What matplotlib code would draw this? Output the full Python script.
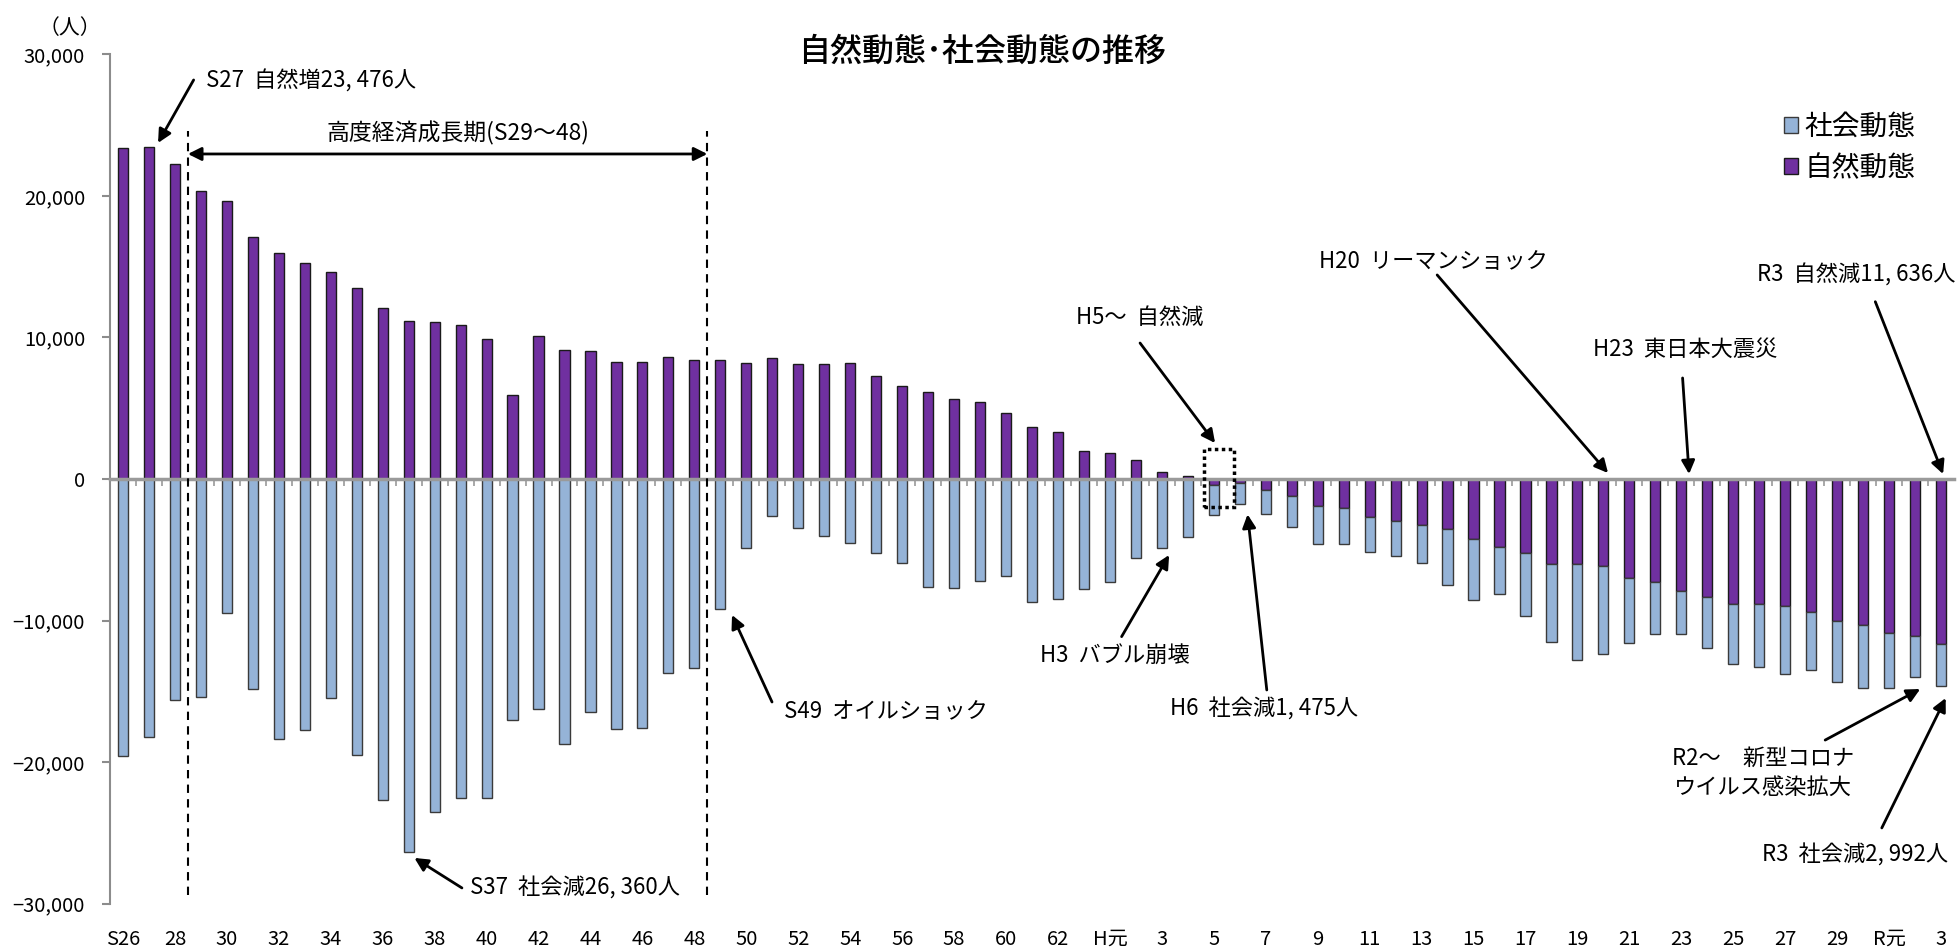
import numpy as np
import matplotlib.pyplot as plt
from matplotlib.patches import Rectangle

plt.rcParams['font.family'] = ['Noto Sans CJK JP', 'DejaVu Sans']

# 自然動態（S26〜R3）
natural = [23370, 23476, 22240, 20330, 19650, 17080, 15990, 15240, 14650, 13520,
           12060, 11170, 11120, 10880, 9920, 5940, 10080, 9150, 9060, 8250,
           8250, 8650, 8440, 8390, 8220, 8580, 8130, 8100, 8170, 7260,
           6600, 6170, 5650, 5460, 4690, 3650, 3340, 2000, 1860, 1370,
           520, 240, -450, -300, -780, -1220, -1880, -2030, -2710, -2950,
           -3230, -3530, -4220, -4780, -5230, -5980, -5980, -6120, -6990, -7300,
           -7910, -8330, -8810, -8810, -8950, -9390, -10070, -10320, -10860, -11070, -11636]

# 社会動態（S26〜R3）
social = [-19580, -18260, -15590, -15430, -9490, -14860, -18400, -17760, -15480, -19510,
          -22710, -26360, -23530, -22520, -22540, -17030, -16230, -18750, -16490, -17670,
          -17600, -13730, -13380, -9190, -4900, -2590, -3440, -4000, -4500, -5230,
          -5960, -7660, -7700, -7180, -6880, -8720, -8460, -7800, -7280, -5610,
          -4900, -4100, -2090, -1475, -1690, -2150, -2740, -2590, -2450, -2520,
          -2710, -3960, -4350, -3380, -4420, -5520, -6810, -6230, -4580, -3650,
          -3050, -3640, -4240, -4500, -4810, -4130, -4250, -4430, -3930, -2900, -2992]

# 2年おきの目盛ラベル
tick_labels = ['S26', '28', '30', '32', '34', '36', '38', '40', '42', '44', '46', '48',
               '50', '52', '54', '56', '58', '60', '62', 'H元', '3', '5', '7', '9', '11',
               '13', '15', '17', '19', '21', '23', '25', '27', '29', 'R元', '3']

fig = plt.figure(figsize=(19.59, 9.47), dpi=100)
ax = fig.add_axes([110 / 1959, 43.5 / 947, 1844 / 1959, 849 / 947])

x = np.arange(len(natural))
nat = np.array(natural)
ax.bar(x, natural, width=0.39, color='#7030A0', edgecolor='#1a1a1a', lw=1,
       label='自然動態', zorder=3)
ax.bar(x, social, width=0.39, bottom=np.minimum(nat, 0), color='#95B3D7',
       edgecolor='#3a3a3a', lw=1, label='社会動態', zorder=3)

ax.set_xlim(-0.5, len(natural) - 0.5)
ax.set_ylim(-30000, 30000)

for s in ['top', 'right']:
    ax.spines[s].set_visible(False)
ax.spines['left'].set_color('#8c8c8c')
ax.spines['left'].set_linewidth(1.5)
ax.spines['bottom'].set_position(('data', 0))
ax.spines['bottom'].set_color('#9a9a9a')
ax.spines['bottom'].set_linewidth(2.5)
ax.spines['bottom'].set_zorder(4)

ax.set_xticks(np.arange(0.5, len(natural) - 0.5, 1))
ax.set_xticklabels([])
ax.tick_params(axis='x', direction='out', length=5, width=1.2, color='#9a9a9a')

yt = np.arange(-30000, 30001, 10000)
ax.set_yticks(yt)
ax.set_yticklabels([f'{v:,}'.replace('-', '−') for v in yt], fontsize=14.5)
ax.tick_params(axis='y', direction='out', length=6, width=1.5, color='#8c8c8c', pad=12)

sec = ax.secondary_xaxis(0.0)
sec.set_xticks(x[::2])
sec.set_xticklabels(tick_labels, fontsize=14.5)
sec.tick_params(length=0, pad=18)
sec.spines['bottom'].set_visible(False)

# 高度経済成長期
ax.vlines([2.5, 22.5], -29400, 24600, colors='black', linestyles=(0, (4, 3)), lw=1.5, zorder=5)
ax.annotate('', xy=(2.5, 22970), xytext=(22.5, 22970),
            arrowprops=dict(arrowstyle='<|-|>', color='black', lw=2, mutation_scale=20,
                            shrinkA=0, shrinkB=0))
ax.text(12.9, 24400, '高度経済成長期(S29～48)', ha='center', va='center', fontsize=16.5)

ap = dict(arrowstyle='-|>', color='black', lw=2, mutation_scale=20, shrinkA=0, shrinkB=0)

notes = [
    ('S27  自然増23, 476人', (3.2, 28150), (1.35, 23750), (2.72, 28200)),
    ('S37  社会減26, 360人', (13.35, -28900), (11.22, -26780), (13.05, -28900)),
    ('S49  オイルショック', (25.45, -16400), (23.45, -9610), (24.99, -15760)),
    ('H3  バブル崩壊', (35.3, -12500), (40.28, -5370), (38.45, -11140)),
    ('H5～  自然減', (36.7, 11450), (42.05, 2540), (39.16, 9610)),
    ('H6  社会減1, 475人', (40.3, -16250), (43.3, -2500), (44.04, -14910)),
    ('H20  リーマンショック', (46.05, 15400), (57.18, 420), (50.6, 14420)),
    ('H23  東日本大震災', (56.6, 9190), (60.3, 350), (60.05, 7140)),
    ('R3  自然減11, 636人', (62.9, 14420), (70.08, 350), (67.47, 12530)),
    ('R3  社会減2, 992人', (63.1, -26570), (70.18, -15480), (67.72, -24660)),
]
for txt, pos, tip, start in notes:
    ax.annotate('', xy=tip, xytext=start, arrowprops=ap, zorder=6)
    ax.text(pos[0], pos[1], txt, ha='left', va='center', fontsize=16)

ax.annotate('', xy=(69.2, -14840), xytext=(65.54, -18450), arrowprops=ap, zorder=6)
ax.text(63.15, -20780, 'R2～　新型コロナ\nウイルス感染拡大', ha='center', va='center',
        fontsize=16, linespacing=1.35)

ax.add_patch(Rectangle((41.63, -1980), 1.14, 4100, fill=False, ec='black',
                       ls=(0, (1, 1)), lw=2.5, zorder=6))

handles, labels = ax.get_legend_handles_labels()
fig.legend(handles[::-1], labels[::-1], loc='upper left',
           bbox_to_anchor=(1770 / 1959, 1 - 98 / 947), frameon=False, fontsize=20,
           handlelength=0.5, handleheight=0.5, handletextpad=0.25, labelspacing=0.4,
           borderpad=0)

fig.text(982 / 1959, 1 - 52 / 947, '自然動態･社会動態の推移', ha='center', va='center',
         fontsize=23, fontweight='medium')
fig.text(70 / 1959, 1 - 28 / 947, '（人）', ha='center', va='center', fontsize=15)

fig.savefig('out.png', dpi=100)
